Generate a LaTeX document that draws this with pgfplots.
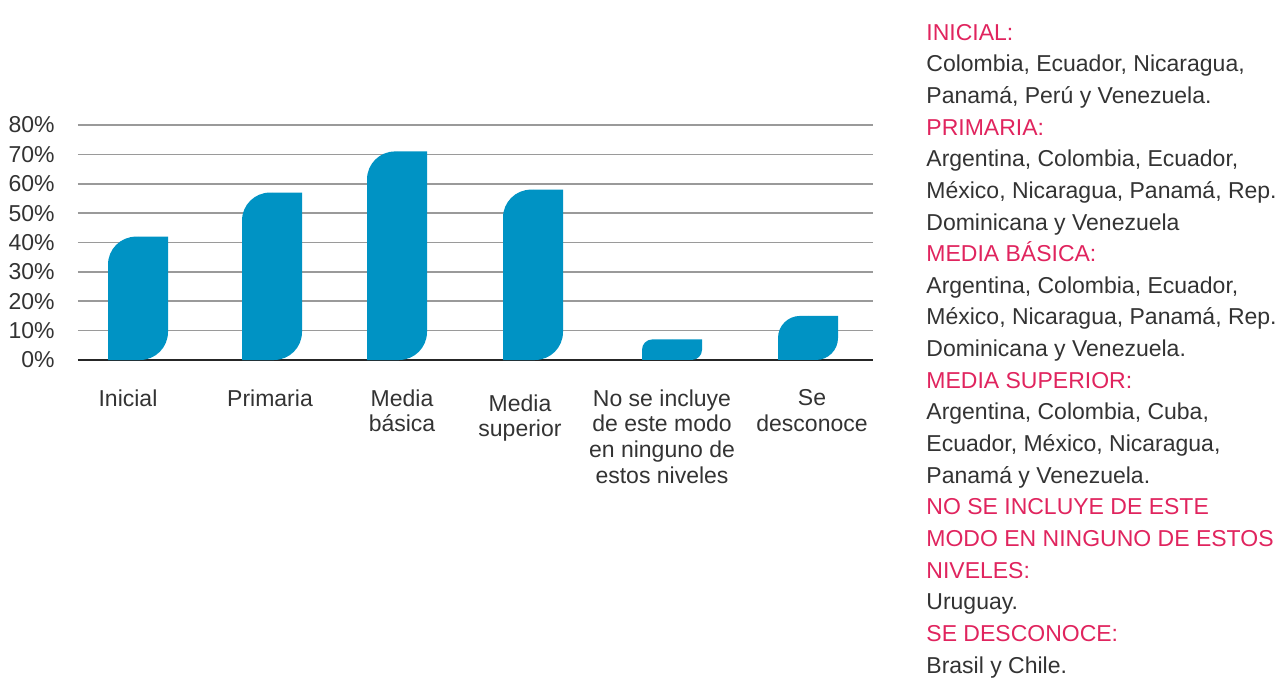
\documentclass[border=0pt]{standalone}
\usepackage{fontspec}
\setmainfont{Liberation Sans}
\usepackage{pgfplots}
\usepackage{pgfplotstable}
\pgfplotsset{compat=1.18}
\definecolor{barblue}{HTML}{0093C4}
\definecolor{gridgray}{HTML}{9A9A9A}
\definecolor{txtgray}{HTML}{333333}
\definecolor{crimson}{HTML}{E0245E}

% x = bar centre on the original layout, v = share in %
\pgfplotstableread{
x   v
138 42
272 57
397 71
533 58
672 7
808 15
}\levels

\begin{document}
\begin{tikzpicture}
\useasboundingbox (0pt,0pt) rectangle (638.5pt,339pt);
\begin{axis}[
  at={(39pt,159pt)}, anchor=south west,
  scale only axis, width=397.5pt, height=117.5pt,
  xmin=78, xmax=873, ymin=0, ymax=80,
  axis line style={draw=none},
  major tick length=0pt,
  ytick={0,10,...,80},
  yticklabels={0\%,10\%,20\%,30\%,40\%,50\%,60\%,70\%,80\%},
  yticklabel style={font=\fontsize{11.5}{13}\selectfont, text=txtgray,
    anchor=east, inner sep=0pt, xshift=-11.5pt},
  xtick={128,270,402,520,662,812},
  xticklabels={Inicial, Primaria, {Media\\básica},
    {\rule{0pt}{10.9pt}Media\\superior},
    {No se incluye\\de este modo\\en ninguno de\\estos niveles},
    {Se\\desconoce}},
  xticklabel style={font=\fontsize{11.5}{12.8}\selectfont, text=txtgray,
    align=center, anchor=north, inner sep=0pt, yshift=-14.6pt},
  ymajorgrids,
  grid style={gridgray, line width=0.85pt},
  extra y ticks={0},
  extra y tick labels={},
  extra y tick style={grid style={black!85, line width=1.35pt}},
]
% leaf shaped bars: round top-left and bottom-right corners
\addplot[scatter, only marks, mark=*, mark size=0pt,
  mark options={draw=none, fill=none},
  visualization depends on={\thisrow{v} \as \barv},
  scatter/@pre marker code/.code={%
    \pgfmathsetmacro\hh{\barv*117.5/80}%
    \pgfmathsetmacro\rr{min(14,\hh/2)}%
    \begin{pgfscope}%
    \pgfpathmoveto{\pgfpoint{-15pt}{-\hh pt}}%
    \pgfpathlineto{\pgfpoint{-15pt}{-\rr pt}}%
    \pgfpatharc{180}{90}{\rr pt}%
    \pgfpathlineto{\pgfpoint{15pt}{0pt}}%
    \pgfpathlineto{\pgfpoint{15pt}{\rr pt-\hh pt}}%
    \pgfpatharc{0}{-90}{\rr pt}%
    \pgfpathclose
    \pgfsetfillcolor{barblue}%
    \pgfusepath{fill}%
    \end{pgfscope}%
  },
  scatter/@post marker code/.code={},
] table[x=x, y=v] {\levels};
\end{axis}
\node[anchor=north west, inner sep=0pt, align=left, text=txtgray,
  font=\fontsize{11.5}{15.83}\selectfont] at (463pt,327.2pt) {%
  \textcolor{crimson}{INICIAL:}\\
  Colombia, Ecuador, Nicaragua,\\
  Panamá, Perú y Venezuela.\\
  \textcolor{crimson}{PRIMARIA:}\\
  Argentina, Colombia, Ecuador,\\
  México, Nicaragua, Panamá, Rep.\\
  Dominicana y Venezuela\\
  \textcolor{crimson}{MEDIA BÁSICA:}\\
  Argentina, Colombia, Ecuador,\\
  México, Nicaragua, Panamá, Rep.\\
  Dominicana y Venezuela.\\
  \textcolor{crimson}{MEDIA SUPERIOR:}\\
  Argentina, Colombia, Cuba,\\
  Ecuador, México, Nicaragua,\\
  Panamá y Venezuela.\\
  \textcolor{crimson}{NO SE INCLUYE DE ESTE}\\
  \textcolor{crimson}{MODO EN NINGUNO DE ESTOS}\\
  \textcolor{crimson}{NIVELES:}\\
  Uruguay.\\
  \textcolor{crimson}{SE DESCONOCE:}\\
  Brasil y Chile.};
\end{tikzpicture}
\end{document}
